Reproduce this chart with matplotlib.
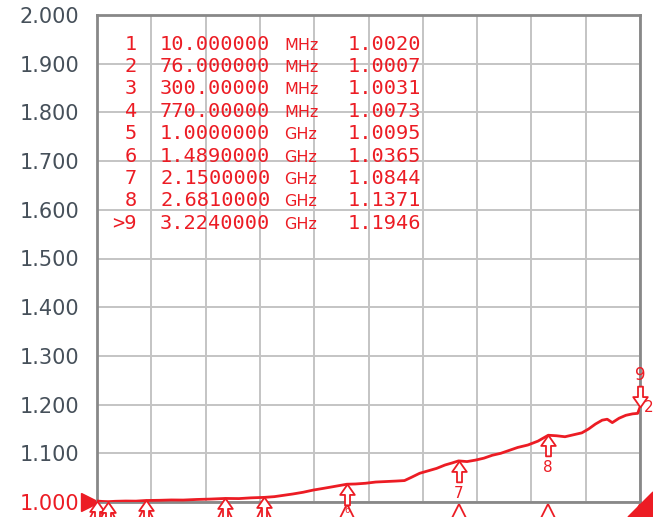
import numpy as np
import matplotlib
matplotlib.use("Agg")
import matplotlib.pyplot as plt
from matplotlib.patches import Polygon
from matplotlib.path import Path

# trace: frequency in MHz, VSWR
freq_mhz = [10, 40, 76, 120, 180, 240, 300, 380, 450, 520, 600, 680,
            770, 850, 920, 1000, 1060, 1110, 1170, 1230, 1290, 1350,
            1400, 1489, 1540, 1600, 1660, 1720, 1780, 1830, 1870, 1920,
            1970, 2020, 2070, 2110, 2150, 2200, 2250, 2300, 2350, 2400,
            2450, 2500, 2560, 2620, 2681, 2730, 2780, 2830, 2880, 2920,
            2960, 3000, 3030, 3060, 3100, 3140, 3180, 3210, 3224]
vswr = [1.0020, 1.0012, 1.0007, 1.0015, 1.0020, 1.0018, 1.0031, 1.0035,
        1.0042, 1.0040, 1.0052, 1.0060, 1.0073, 1.0070, 1.0085, 1.0095,
        1.0110, 1.0135, 1.0165, 1.0200, 1.0245, 1.0280, 1.0310, 1.0365,
        1.0370, 1.0385, 1.0410, 1.0420, 1.0430, 1.0440, 1.0505, 1.0590,
        1.0640, 1.0690, 1.0760, 1.0800, 1.0844, 1.0830, 1.0860, 1.0900,
        1.0960, 1.1000, 1.1060, 1.1120, 1.1170, 1.1250, 1.1371, 1.1360,
        1.1340, 1.1380, 1.1420, 1.1500, 1.1600, 1.1680, 1.1700, 1.1630,
        1.1720, 1.1780, 1.1810, 1.1820, 1.1946]

# marker table
mk_labels = ["1", "2", "3", "4", "5", "6", "7", "8", ">9"]
mk_freq_mhz = [10, 76, 300, 770, 1000, 1489, 2150, 2681, 3224]
mk_freq_txt = ["10.000000", "76.000000", "300.00000", "770.00000",
               "1.0000000", "1.4890000", "2.1500000", "2.6810000",
               "3.2240000"]
mk_unit = ["MHz", "MHz", "MHz", "MHz", "GHz", "GHz", "GHz", "GHz", "GHz"]
mk_vswr = [1.0020, 1.0007, 1.0031, 1.0073, 1.0095, 1.0365, 1.0844,
           1.1371, 1.1946]

y_ticks = [1.0, 1.1, 1.2, 1.3, 1.4, 1.5, 1.6, 1.7, 1.8, 1.9, 2.0]

RED = "#ec1c24"
W, H = 653, 517

# arrow-shaped marker, tip at the data point
up_arrow = Path([(0, 0), (-0.35, -0.5), (-0.12, -0.5), (-0.12, -1.0),
                 (0.12, -1.0), (0.12, -0.5), (0.35, -0.5), (0, 0)],
                closed=True)
down_arrow = Path([(0, 0), (-0.35, 0.5), (-0.12, 0.5), (-0.12, 1.0),
                   (0.12, 1.0), (0.12, 0.5), (0.35, 0.5), (0, 0)],
                  closed=True)

fig = plt.figure(figsize=(W / 100, H / 100), dpi=100)
ax = fig.add_axes([97 / W, 1 - 502 / H, 543 / W, 487 / H])

f0, f1 = freq_mhz[0], freq_mhz[-1]
ax.set_xlim(f0, f1)
ax.set_ylim(1.0, 2.0)
ax.set_xticks(np.linspace(f0, f1, 11))
ax.set_xticklabels([])
ax.set_yticks(y_ticks)
ax.set_yticklabels(["%.3f" % v for v in y_ticks], fontsize=15,
                   color="#46505a")
ax.get_yticklabels()[0].set_color(RED)
ax.tick_params(length=0, pad=13)
ax.grid(True, color="#c4c4c4", linewidth=1.4)
for side, sp in ax.spines.items():
    sp.set_color("#888888")
    sp.set_linewidth(2)

ax.plot(freq_mhz, vswr, color=RED, linewidth=2.0, zorder=3)

xt = ax.get_xaxis_transform()
for i, (f, v) in enumerate(zip(mk_freq_mhz[:-1], mk_vswr[:-1])):
    ax.plot(f, v, marker=up_arrow, markersize=30, mfc="white", mec=RED,
            mew=1.3, linestyle="none", zorder=4, clip_on=False)
    # stimulus triangles below the graticule
    ax.plot(f, -0.02, marker="^", markersize=12, mfc="white", mec=RED,
            mew=1.3, linestyle="none", clip_on=False, transform=xt)
    if i < 6:
        ax.text(f, -0.018, str(i + 1), ha="center", va="center", color=RED,
                fontsize=6, transform=xt, clip_on=False)
    else:
        ax.annotate(str(i + 1), (f, v), xytext=(0, -18),
                    textcoords="offset points", ha="center", va="top",
                    color=RED, fontsize=11, zorder=4, annotation_clip=False)

# active marker 9
ax.plot(mk_freq_mhz[-1], mk_vswr[-1], marker=down_arrow, markersize=30,
        mfc="white", mec=RED, mew=1.3, linestyle="none", zorder=5,
        clip_on=False)
ax.annotate("9", (mk_freq_mhz[-1], mk_vswr[-1]), xytext=(0, 17),
            textcoords="offset points", ha="center", va="bottom", color=RED,
            fontsize=12, annotation_clip=False)
ax.annotate("2", (mk_freq_mhz[-1], mk_vswr[-1]), xytext=(3, 0),
            textcoords="offset points", ha="left", va="center", color=RED,
            fontsize=11, annotation_clip=False)
ax.plot(mk_freq_mhz[-1], -0.02, marker="^", markersize=12, mfc="white",
        mec=RED, mew=1.3, linestyle="none", clip_on=False, transform=xt)

# reference level arrow on the left
ax.plot(-0.012, 1.0, marker=">", markersize=13, color=RED, clip_on=False,
        transform=ax.get_yaxis_transform())
fig.patches.append(Polygon([(628 / W, 0), (1, 25 / H), (1, 0)],
                           closed=True, color=RED,
                           transform=fig.transFigure))

# marker readout table
for r in range(len(mk_labels)):
    y = 1 - (44 + r * 22.4) / H
    fig.text(137 / W, y, mk_labels[r], ha="right", va="center", color=RED,
             family="DejaVu Sans Mono", fontsize=14.6)
    fig.text(160 / W, y, mk_freq_txt[r], ha="left", va="center", color=RED,
             family="DejaVu Sans Mono", fontsize=14.6)
    fig.text(284 / W, y - 0.002, mk_unit[r], ha="left", va="center",
             color=RED, family="DejaVu Sans", fontsize=11.5)
    fig.text(348 / W, y, "%.4f" % mk_vswr[r], ha="left", va="center",
             color=RED, family="DejaVu Sans Mono", fontsize=14.6)

fig.savefig("out.png", dpi=100, facecolor="white")
